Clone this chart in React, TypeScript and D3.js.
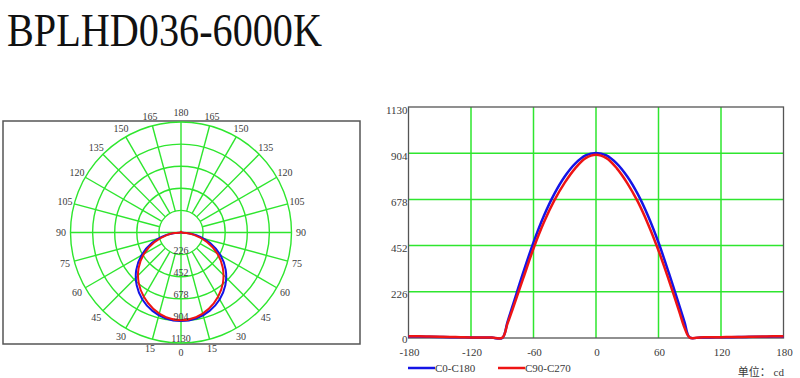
import React from "react";
import * as d3 from "d3";

const title = "BPLHD036-6000K";
const angles = [-180,-170,-160,-150,-140,-130,-120,-110,-100,-90,-85,-80,-70,-60,-50,-40,-30,-20,-10,0,10,20,30,40,50,60,70,80,85,90,100,110,120,130,140,150,160,170,180];
const c0c180 = [7,7,6,5,4,4,3,3,2,0,78,158,318,468,598,705,790,853,893,905,893,853,790,705,597,467,317,158,78,2,3,3,4,4,5,6,6,7,7];
const c90c270 = [8,8,7,6,5,4,3,3,2,1,70,142,290,438,566,673,760,830,880,897,880,830,758,668,557,428,282,128,50,2,3,4,4,5,5,6,7,8,8];
const seriesNames = ["C0-C180", "C90-C270"];
const seriesColors = ["#1414e6", "#ee1414"];
const intensityTicks = [226, 452, 678, 904, 1130];
const angleTicksX = [-180, -120, -60, 0, 60, 120, 180];
const polarAngleLabels = [0, 15, 30, 45, 60, 75, 90, 105, 120, 135, 150, 165, 180];
const unitLabel = "单位： cd";

const GREEN = "#2ee62e";
const FRAME = "#555";
const TXT = "#3a3a3a";
const SERIF = "'Liberation Serif', 'DejaVu Serif', serif";

export default function App() {
  const series = [c0c180, c90c270];
  // polar
  const cx = 181, cy = 232.5, R = 110.5;
  const r = d3.scaleLinear().domain([0, 1130]).range([0, R]);
  const rad = (d: number) => (d * Math.PI) / 180;
  const spokes = d3.range(-165, 181, 15).filter((a) => a % 90 !== 0);
  const polarLine = d3
    .lineRadial<number>()
    .angle((_, i) => Math.PI - rad(angles[i]))
    .radius((v) => r(v))
    .curve(d3.curveCatmullRomClosed.alpha(0.5));

  // cartesian
  const x = d3.scaleLinear().domain([-180, 180]).range([408.5, 783.5]);
  const y = d3.scaleLinear().domain([0, 1130]).range([338, 107]);
  const line = d3
    .line<number>()
    .x((_, i) => x(angles[i]))
    .y((v) => y(v))
    .curve(d3.curveCatmullRom.alpha(0.5));

  return (
    <svg width={800} height={378} style={{ position: "absolute", left: 0, top: 0, background: "#fff" }}>
      <rect x={0} y={0} width={800} height={378} fill="#fff" />
      <text x={7} y={46} fontFamily={SERIF} fontSize={46} textLength={315} lengthAdjust="spacingAndGlyphs" fill="#111">
        {title}
      </text>

      {/* polar frame */}
      <rect x={3} y={121} width={357} height={223} fill="none" stroke={FRAME} strokeWidth={1.5} />
      <g>
        {intensityTicks.map((t) => (
          <circle key={t} cx={cx} cy={cy} r={r(t)} fill="none" stroke={GREEN} strokeWidth={1.4} />
        ))}
        {spokes.map((a) => (
          <line
            key={a}
            x1={cx + r(226) * Math.sin(rad(a))}
            y1={cy + r(226) * Math.cos(rad(a))}
            x2={cx + R * Math.sin(rad(a))}
            y2={cy + R * Math.cos(rad(a))}
            stroke={GREEN}
            strokeWidth={1.4}
          />
        ))}
        <line x1={cx} y1={cy - R} x2={cx} y2={cy + R} stroke={GREEN} strokeWidth={1.4} />
        <line x1={cx - R} y1={cy} x2={cx + R} y2={cy} stroke={GREEN} strokeWidth={1.4} />
        {polarAngleLabels.flatMap((a) => {
          const sides = a === 0 || a === 180 ? [1] : [-1, 1];
          return sides.map((s) => (
            <text
              key={`${a}_${s}`}
              x={cx + 120 * Math.sin(rad(a * s))}
              y={cy + 120 * Math.cos(rad(a * s)) + 3.5}
              textAnchor="middle"
              fontFamily={SERIF}
              fontSize={10}
              fill={TXT}
            >
              {a}
            </text>
          ));
        })}
        {series.map((s, k) => (
          <path
            key={k}
            d={polarLine(s) || ""}
            transform={`translate(${cx},${cy})`}
            fill="none"
            stroke={seriesColors[k]}
            strokeWidth={2}
          />
        ))}
        {intensityTicks.map((t) => (
          <text key={t} x={cx} y={cy + r(t) - 1} textAnchor="middle" fontFamily={SERIF} fontSize={10} fill={TXT}>
            {t}
          </text>
        ))}
      </g>

      {/* cartesian */}
      <g>
        {intensityTicks.slice(0, 4).map((t) => (
          <line key={t} x1={x(-180)} x2={x(180)} y1={y(t)} y2={y(t)} stroke={GREEN} strokeWidth={1.5} />
        ))}
        {angleTicksX.slice(1, -1).map((a) => (
          <line key={a} x1={x(a)} x2={x(a)} y1={y(0)} y2={y(1130)} stroke={GREEN} strokeWidth={1.5} />
        ))}
        <rect x={x(-180)} y={y(1130)} width={x(180) - x(-180)} height={y(0) - y(1130)} fill="none" stroke={FRAME} strokeWidth={1.3} />
        {[0, ...intensityTicks].map((t) => (
          <text key={t} x={x(-180) - 1} y={y(t) + (t === 0 ? 5 : 6.5)} textAnchor="end" fontFamily={SERIF} fontSize={11} fill={TXT}>
            {t}
          </text>
        ))}
        {angleTicksX.map((a) => (
          <text key={a} x={x(a) + 1} y={356} textAnchor="middle" fontFamily={SERIF} fontSize={11} fill={TXT}>
            {a}
          </text>
        ))}
        {series.map((s, k) => (
          <path key={k} d={line(s) || ""} fill="none" stroke={seriesColors[k]} strokeWidth={2.5} />
        ))}
        {/* legend */}
        {seriesNames.map((n, k) => {
          const lx = k === 0 ? 408 : 498;
          return (
            <g key={n}>
              <line x1={lx} x2={lx + 27} y1={368} y2={368} stroke={seriesColors[k]} strokeWidth={2.5} />
              <text x={lx + 27} y={372} fontFamily={SERIF} fontSize={11} fill={TXT}>
                {n}
              </text>
            </g>
          );
        })}
        <text x={784} y={376} textAnchor="end" fontFamily={SERIF + ", 'Noto Sans CJK SC'"} fontSize={11} fill={TXT}>
          {unitLabel}
        </text>
      </g>
    </svg>
  );
}
